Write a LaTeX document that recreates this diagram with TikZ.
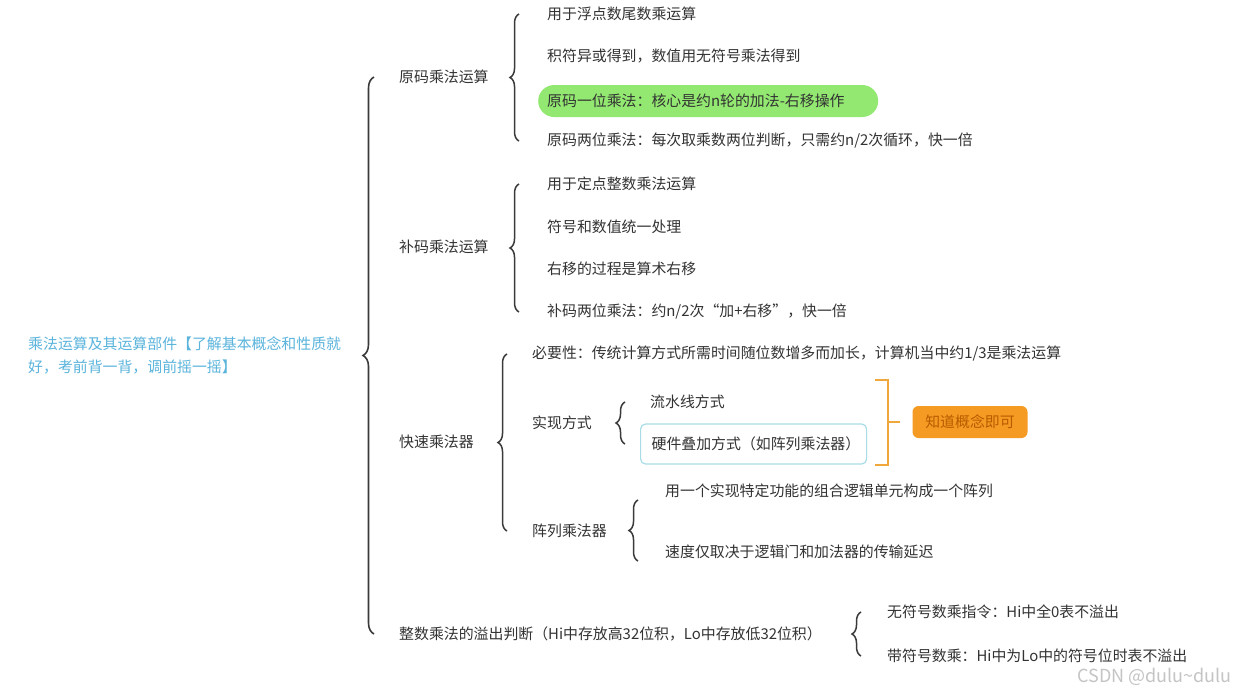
\documentclass[tikz,border=0pt]{standalone}
\usepackage{fontspec}
\setmainfont{Noto Sans CJK SC}
\usetikzlibrary{decorations.pathreplacing,calc}
\definecolor{txt}{HTML}{333333}
\definecolor{brc}{HTML}{3A3A3A}
\definecolor{rootc}{HTML}{5AB4DC}
\definecolor{hl}{HTML}{92E870}
\definecolor{cyanb}{HTML}{A8DCE6}
\definecolor{orb}{HTML}{F0A83C}
\definecolor{orf}{HTML}{F59A23}
\definecolor{ort}{HTML}{B85C00}
\definecolor{wm}{HTML}{C4C4C4}
\begin{document}
\begin{tikzpicture}[x=1pt,y=-1pt,
  every node/.style={font=\fontsize{14.9}{23}\selectfont, text=txt, inner sep=0pt},
  item/.style={anchor=west},
  brc/.style={decorate, decoration={brace, amplitude=9pt}, draw=brc, line width=1.5pt},
  bigbrc/.style={decorate, decoration={brace, amplitude=11pt}, draw=brc, line width=1.6pt},
  hlbox/.style={anchor=west, fill=hl, rounded corners=16pt, minimum height=32pt, text width=322pt, inner xsep=9pt, align=left},
  cbox/.style={anchor=west, draw=cyanb, line width=1.2pt, rounded corners=5pt, minimum height=40pt, text width=204pt, inner xsep=11pt, align=left},
  obox/.style={fill=orf, rounded corners=6pt, minimum width=115pt, minimum height=32pt, text=ort},
  obr/.style={draw=orb, line width=1.8pt},
]
\useasboundingbox (0,0) rectangle (1237,689);
\fill[white] (0,0) rectangle (1237,689);

% root
\node[anchor=west, align=left, text=rootc] (root) at (28,355) {乘法运算及其运算部件【了解基本概念和性质就\\好，考前背一背，调前摇一摇】};

% level 1
\node[item] (a1) at (399,77) {原码乘法运算};
\node[item] (a2) at (399,247) {补码乘法运算};
\node[item] (a3) at (399,442) {快速乘法器};
\node[item] (a4) at (399,634) {整数乘法的溢出判断（Hi中存放高32位积，Lo中存放低32位积）};

\coordinate (bx0) at (374,0);
\draw[bigbrc] (bx0 |- a4) -- (bx0 |- a1);

% group 1
\node[item] (b1) at (547,14) {用于浮点数尾数乘运算};
\node[item] (b2) at (547,56) {积符异或得到，数值用无符号乘法得到};
\node[hlbox] (b3) at (538,101) {原码一位乘法：核心是约n轮的加法-右移操作};
\node[item] (b4) at (547,141) {原码两位乘法：每次取乘数两位判断，只需约n/2次循环，快一倍};
\coordinate (bx1) at (519,0);
\draw[brc] (bx1 |- b4) -- (bx1 |- b1);

% group 2
\node[item] (c1) at (547,184) {用于定点整数乘法运算};
\node[item] (c2) at (547,227) {符号和数值统一处理};
\node[item] (c3) at (547,269) {右移的过程是算术右移};
\node[item] (c4) at (547,312) {补码两位乘法：约n/2次“加+右移”，快一倍};
\coordinate (bx2) at (519,0);
\draw[brc] (bx2 |- c4) -- (bx2 |- c1);

% group 3
\node[item] (d1) at (532,354) {必要性：传统计算方式所需时间随位数增多而加长，计算机当中约1/3是乘法运算};
\node[item] (d2) at (532,423) {实现方式};
\node[item] (d3) at (532,531) {阵列乘法器};
\coordinate (bx3) at (507,0);
\draw[brc] (bx3 |- d3) -- (bx3 |- d1);

\node[item] (e1) at (650,402) {流水线方式};
\node[cbox] (e2) at (640,444) {硬件叠加方式（如阵列乘法器）};
\coordinate (bx4) at (625,0);
\draw[brc] (bx4 |- e2) -- (bx4 |- e1);

\node[obox] (k) at (970,422) {知道概念即可};
\coordinate (ot) at (875,380);
\coordinate (ob) at (875,465);
\coordinate (om) at (888,422);
\draw[obr] (ot) -- (ot -| om) -- (ob -| om) -- (ob);
\draw[obr] (om) -- ([xshift=-12pt]k.west);

\node[item] (f1) at (665,491) {用一个实现特定功能的组合逻辑单元构成一个阵列};
\node[item] (f2) at (665,552) {速度仅取决于逻辑门和加法器的传输延迟};
\coordinate (bx5) at (638,0);
\draw[brc] ([yshift=-30pt]bx5 |- d3) -- ([yshift=31pt]bx5 |- d3);

% group 4
\node[item] (g1) at (887,612) {无符号数乘指令：Hi中全0表不溢出};
\node[item] (g2) at (887,656) {带符号数乘：Hi中为Lo中的符号位时表不溢出};
\coordinate (bx6) at (861,0);
\draw[brc] (bx6 |- g2) -- (bx6 |- g1);

% watermark
\node[anchor=east, text=wm, font=\fontsize{18}{20}\selectfont] (wmk) at (1232,677) {CSDN @dulu\textasciitilde dulu};
\end{tikzpicture}
\end{document}
